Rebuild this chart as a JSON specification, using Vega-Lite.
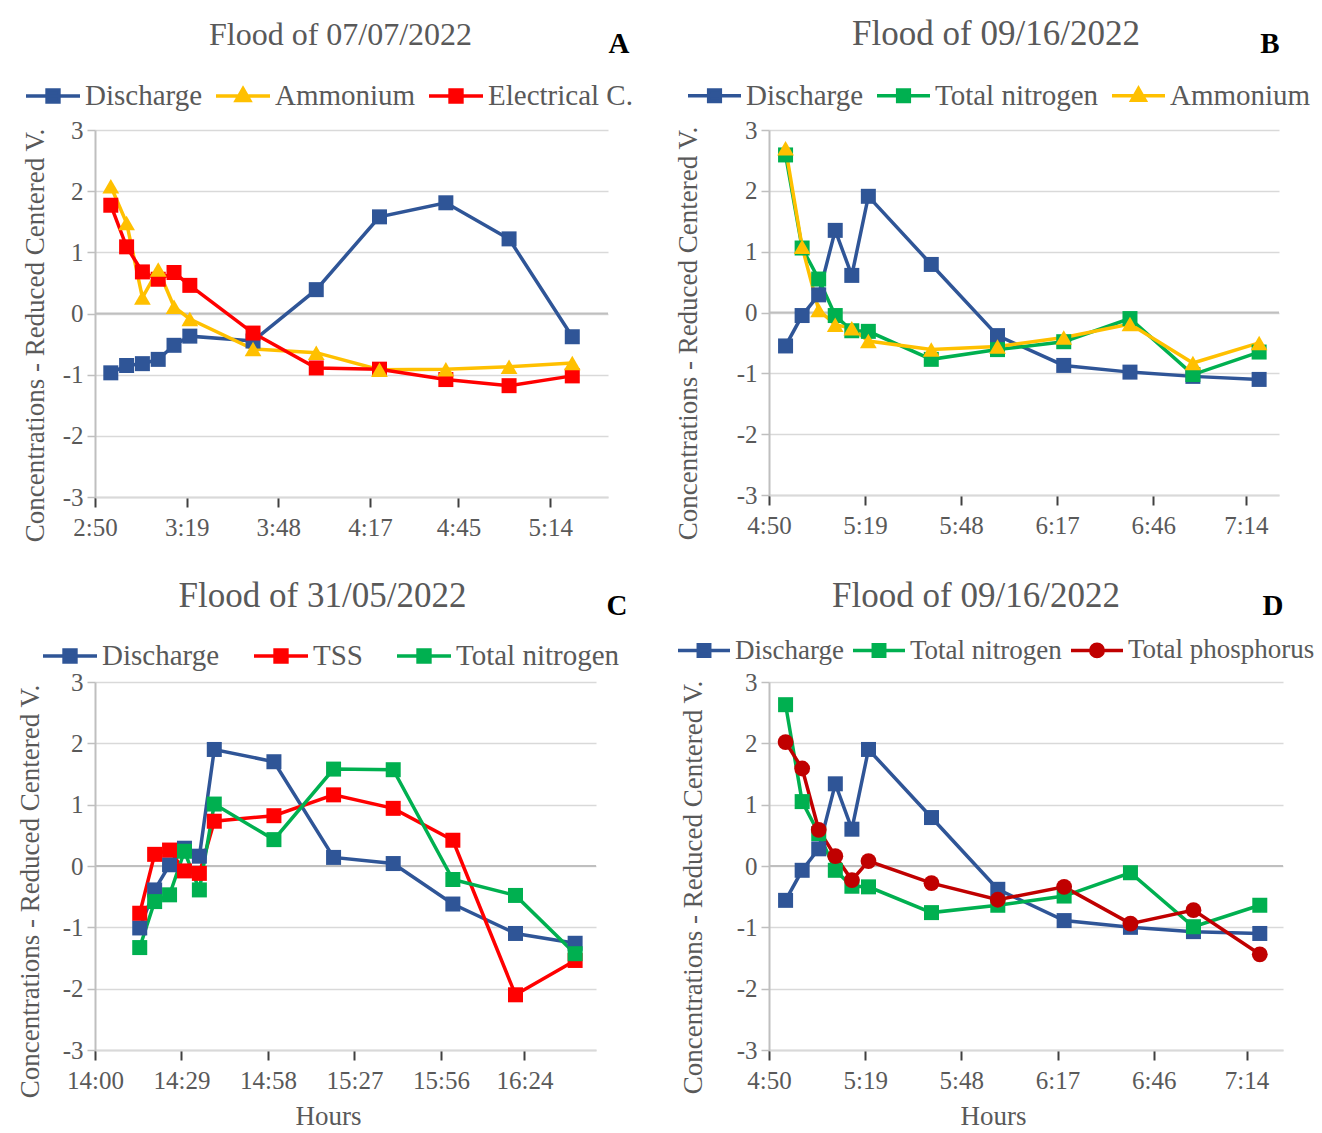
{
  "$schema": "https://vega.github.io/schema/vega-lite/v6.json",
  "background": "white",
  "autosize": {"type": "pad"},
  "padding": {"left": 16, "top": 17, "right": 0, "bottom": 0},
  "bounds": "flush",
  "columns": 2,
  "spacing": {"row": 185, "column": 161},
  "resolve": {
    "scale": {"color": "independent", "fill": "independent", "stroke": "independent", "shape": "independent"},
    "legend": {"color": "independent", "fill": "independent", "stroke": "independent", "shape": "independent"}
  },
  "config": {
    "font": "Liberation Serif",
    "view": {"stroke": null},
    "axis": {
      "labelFont": "Liberation Serif", "titleFont": "Liberation Serif",
      "labelColor": "#595959", "titleColor": "#595959",
      "labelFontSize": 25, "titleFontSize": 27, "titleFontWeight": "normal"
    },
    "legend": {
      "labelFont": "Liberation Serif", "labelColor": "#595959", "labelLimit": 0,
      "symbolStrokeWidth": 3.5, "symbolOpacity": 1
    },
    "title": {"font": "Liberation Serif", "color": "#595959", "fontWeight": "normal", "fontSize": 35, "anchor": "middle", "frame": "group", "dy": 27}
  },
  "datasets": {
    "A": [
      {"t": 175, "s": "Discharge", "v": -0.97}, {"t": 180, "s": "Discharge", "v": -0.85}, {"t": 185, "s": "Discharge", "v": -0.82},
      {"t": 190, "s": "Discharge", "v": -0.75}, {"t": 195, "s": "Discharge", "v": -0.52}, {"t": 200, "s": "Discharge", "v": -0.37},
      {"t": 220, "s": "Discharge", "v": -0.45}, {"t": 240, "s": "Discharge", "v": 0.39}, {"t": 260, "s": "Discharge", "v": 1.58},
      {"t": 281, "s": "Discharge", "v": 1.81}, {"t": 301, "s": "Discharge", "v": 1.22}, {"t": 321, "s": "Discharge", "v": -0.38},
      {"t": 175, "s": "Ammonium", "v": 2.08}, {"t": 180, "s": "Ammonium", "v": 1.48}, {"t": 185, "s": "Ammonium", "v": 0.26},
      {"t": 190, "s": "Ammonium", "v": 0.72}, {"t": 195, "s": "Ammonium", "v": 0.11}, {"t": 200, "s": "Ammonium", "v": -0.09},
      {"t": 220, "s": "Ammonium", "v": -0.58}, {"t": 240, "s": "Ammonium", "v": -0.64}, {"t": 260, "s": "Ammonium", "v": -0.92},
      {"t": 281, "s": "Ammonium", "v": -0.91}, {"t": 301, "s": "Ammonium", "v": -0.87}, {"t": 321, "s": "Ammonium", "v": -0.81},
      {"t": 175, "s": "Electrical C.", "v": 1.77}, {"t": 180, "s": "Electrical C.", "v": 1.09}, {"t": 185, "s": "Electrical C.", "v": 0.68},
      {"t": 190, "s": "Electrical C.", "v": 0.56}, {"t": 195, "s": "Electrical C.", "v": 0.67}, {"t": 200, "s": "Electrical C.", "v": 0.46},
      {"t": 220, "s": "Electrical C.", "v": -0.32}, {"t": 240, "s": "Electrical C.", "v": -0.89}, {"t": 260, "s": "Electrical C.", "v": -0.91},
      {"t": 281, "s": "Electrical C.", "v": -1.08}, {"t": 301, "s": "Electrical C.", "v": -1.18}, {"t": 321, "s": "Electrical C.", "v": -1.02}
    ],
    "B": [
      {"t": 295, "s": "Discharge", "v": -0.55}, {"t": 300, "s": "Discharge", "v": -0.05}, {"t": 305, "s": "Discharge", "v": 0.29},
      {"t": 310, "s": "Discharge", "v": 1.35}, {"t": 315, "s": "Discharge", "v": 0.61}, {"t": 320, "s": "Discharge", "v": 1.91},
      {"t": 339, "s": "Discharge", "v": 0.79}, {"t": 359, "s": "Discharge", "v": -0.38}, {"t": 379, "s": "Discharge", "v": -0.87},
      {"t": 399, "s": "Discharge", "v": -0.98}, {"t": 418, "s": "Discharge", "v": -1.05}, {"t": 438, "s": "Discharge", "v": -1.10},
      {"t": 295, "s": "Total nitrogen", "v": 2.59}, {"t": 300, "s": "Total nitrogen", "v": 1.06}, {"t": 305, "s": "Total nitrogen", "v": 0.55},
      {"t": 310, "s": "Total nitrogen", "v": -0.05}, {"t": 315, "s": "Total nitrogen", "v": -0.30}, {"t": 320, "s": "Total nitrogen", "v": -0.31},
      {"t": 339, "s": "Total nitrogen", "v": -0.77}, {"t": 359, "s": "Total nitrogen", "v": -0.61}, {"t": 379, "s": "Total nitrogen", "v": -0.48},
      {"t": 399, "s": "Total nitrogen", "v": -0.10}, {"t": 418, "s": "Total nitrogen", "v": -1.02}, {"t": 438, "s": "Total nitrogen", "v": -0.65},
      {"t": 295, "s": "Ammonium", "v": 2.70}, {"t": 300, "s": "Ammonium", "v": 1.08}, {"t": 305, "s": "Ammonium", "v": 0.04},
      {"t": 310, "s": "Ammonium", "v": -0.20}, {"t": 315, "s": "Ammonium", "v": -0.26}, {"t": 320, "s": "Ammonium", "v": -0.47},
      {"t": 339, "s": "Ammonium", "v": -0.61}, {"t": 359, "s": "Ammonium", "v": -0.56}, {"t": 379, "s": "Ammonium", "v": -0.41},
      {"t": 399, "s": "Ammonium", "v": -0.19}, {"t": 418, "s": "Ammonium", "v": -0.83}, {"t": 438, "s": "Ammonium", "v": -0.50}
    ],
    "C": [
      {"t": 855, "s": "Discharge", "v": -1.01}, {"t": 860, "s": "Discharge", "v": -0.39}, {"t": 865, "s": "Discharge", "v": 0.02},
      {"t": 870, "s": "Discharge", "v": 0.29}, {"t": 875, "s": "Discharge", "v": 0.16}, {"t": 880, "s": "Discharge", "v": 1.90},
      {"t": 900, "s": "Discharge", "v": 1.70}, {"t": 920, "s": "Discharge", "v": 0.14}, {"t": 940, "s": "Discharge", "v": 0.04},
      {"t": 960, "s": "Discharge", "v": -0.62}, {"t": 981, "s": "Discharge", "v": -1.10}, {"t": 1001, "s": "Discharge", "v": -1.26},
      {"t": 855, "s": "TSS", "v": -0.77}, {"t": 860, "s": "TSS", "v": 0.19}, {"t": 865, "s": "TSS", "v": 0.26},
      {"t": 870, "s": "TSS", "v": -0.08}, {"t": 875, "s": "TSS", "v": -0.12}, {"t": 880, "s": "TSS", "v": 0.73},
      {"t": 900, "s": "TSS", "v": 0.82}, {"t": 920, "s": "TSS", "v": 1.16}, {"t": 940, "s": "TSS", "v": 0.94},
      {"t": 960, "s": "TSS", "v": 0.42}, {"t": 981, "s": "TSS", "v": -2.10}, {"t": 1001, "s": "TSS", "v": -1.54},
      {"t": 855, "s": "Total nitrogen", "v": -1.33}, {"t": 860, "s": "Total nitrogen", "v": -0.58}, {"t": 865, "s": "Total nitrogen", "v": -0.47},
      {"t": 870, "s": "Total nitrogen", "v": 0.24}, {"t": 875, "s": "Total nitrogen", "v": -0.39}, {"t": 880, "s": "Total nitrogen", "v": 1.01},
      {"t": 900, "s": "Total nitrogen", "v": 0.43}, {"t": 920, "s": "Total nitrogen", "v": 1.58}, {"t": 940, "s": "Total nitrogen", "v": 1.57},
      {"t": 960, "s": "Total nitrogen", "v": -0.22}, {"t": 981, "s": "Total nitrogen", "v": -0.48}, {"t": 1001, "s": "Total nitrogen", "v": -1.43}
    ],
    "D": [
      {"t": 295, "s": "Discharge", "v": -0.56}, {"t": 300, "s": "Discharge", "v": -0.07}, {"t": 305, "s": "Discharge", "v": 0.28},
      {"t": 310, "s": "Discharge", "v": 1.34}, {"t": 315, "s": "Discharge", "v": 0.60}, {"t": 320, "s": "Discharge", "v": 1.90},
      {"t": 339, "s": "Discharge", "v": 0.79}, {"t": 359, "s": "Discharge", "v": -0.38}, {"t": 379, "s": "Discharge", "v": -0.89},
      {"t": 399, "s": "Discharge", "v": -1.00}, {"t": 418, "s": "Discharge", "v": -1.07}, {"t": 438, "s": "Discharge", "v": -1.10},
      {"t": 295, "s": "Total nitrogen", "v": 2.63}, {"t": 300, "s": "Total nitrogen", "v": 1.05}, {"t": 305, "s": "Total nitrogen", "v": 0.53},
      {"t": 310, "s": "Total nitrogen", "v": -0.07}, {"t": 315, "s": "Total nitrogen", "v": -0.33}, {"t": 320, "s": "Total nitrogen", "v": -0.34},
      {"t": 339, "s": "Total nitrogen", "v": -0.76}, {"t": 359, "s": "Total nitrogen", "v": -0.64}, {"t": 379, "s": "Total nitrogen", "v": -0.49},
      {"t": 399, "s": "Total nitrogen", "v": -0.11}, {"t": 418, "s": "Total nitrogen", "v": -0.99}, {"t": 438, "s": "Total nitrogen", "v": -0.64},
      {"t": 295, "s": "Total phosphorus", "v": 2.02}, {"t": 300, "s": "Total phosphorus", "v": 1.59}, {"t": 305, "s": "Total phosphorus", "v": 0.59},
      {"t": 310, "s": "Total phosphorus", "v": 0.16}, {"t": 315, "s": "Total phosphorus", "v": -0.23}, {"t": 320, "s": "Total phosphorus", "v": 0.08},
      {"t": 339, "s": "Total phosphorus", "v": -0.28}, {"t": 359, "s": "Total phosphorus", "v": -0.55}, {"t": 379, "s": "Total phosphorus", "v": -0.34},
      {"t": 399, "s": "Total phosphorus", "v": -0.94}, {"t": 418, "s": "Total phosphorus", "v": -0.72}, {"t": 438, "s": "Total phosphorus", "v": -1.44}
    ]
  },
  "concat": [
    {
      "width": 513, "height": 367,
      "title": {"text": "Flood of 07/07/2022", "fontSize": 32, "dx": -11},
      "data": {"name": "A"},
      "resolve": {"axis": {"x": "independent"}},
      "layer": [
        {"data": {"values": [{}]}, "mark": {"type": "rule", "color": "#BFBFBF", "strokeWidth": 2}, "encoding": {"y": {"datum": 0}}},
        {
          "mark": {"type": "line", "strokeWidth": 3.5},
          "encoding": {
            "x": {"field": "t", "type": "quantitative", "scale": {"domain": [170, 332.3], "nice": false, "zero": false},
              "axis": {"values": [170, 199, 228, 257, 285, 314], "labelExpr": "floor(datum.value/60) + ':' + (datum.value % 60 < 10 ? '0' : '') + (datum.value % 60)", "grid": false, "domainColor": "#D9D9D9", "domainWidth": 2, "tickColor": "#404040", "tickSize": 10, "tickWidth": 2, "labelPadding": 8, "labelFlush": false, "labelOverlap": false, "title": null}},
            "y": {"field": "v", "type": "quantitative", "scale": {"domain": [-3, 3], "nice": false, "zero": false},
              "axis": {"values": [-3, -2, -1, 0, 1, 2, 3], "labelExpr": "'' + datum.value", "grid": true, "gridColor": "#D9D9D9", "gridWidth": 1.5, "domainColor": "#BFBFBF", "domainWidth": 2, "tickColor": "#BFBFBF", "tickSize": 8, "tickWidth": 1.5, "labelPadding": 4, "title": "Concentrations - Reduced Centered V.", "titleY": 205, "titlePadding": 13}},
            "color": {"field": "s", "type": "nominal", "scale": {"domain": ["Electrical C.", "Ammonium", "Discharge"], "range": ["#FF0000", "#FFC000", "#2F5597"]}, "legend": null}
          }
        },
        {
          "transform": [{"filter": "datum.s !== 'Ammonium' && datum.s !== 'Total phosphorus'"}],
          "mark": {"type": "point", "filled": true, "shape": "square", "size": 225, "opacity": 1},
          "encoding": {"x": {"field": "t", "type": "quantitative", "axis": null}, "y": {"field": "v", "type": "quantitative"}, "color": {"field": "s", "type": "nominal", "legend": null}}
        },
        {
          "transform": [{"filter": "datum.s === 'Ammonium'"}],
          "mark": {"type": "point", "filled": true, "shape": "triangle-up", "size": 280, "opacity": 1},
          "encoding": {"x": {"field": "t", "type": "quantitative", "axis": null}, "y": {"field": "v", "type": "quantitative"}, "color": {"field": "s", "type": "nominal", "legend": null}}
        },
        {
          "mark": {"type": "point", "filled": true, "opacity": 0},
          "encoding": {
            "x": {"field": "t", "type": "quantitative", "axis": {"orient": "top", "title": "A", "labels": false, "ticks": false, "domain": false, "grid": false, "titleAnchor": "end", "titleAlign": "left", "titleFontWeight": "bold", "titleColor": "black", "titleFontSize": 29, "titlePadding": 72}},
            "y": {"field": "v", "type": "quantitative"},
            "fill": {"field": "s", "type": "nominal", "scale": {"domain": ["Discharge", "Ammonium", "Electrical C."], "range": ["#2F5597", "#FFC000", "#FF0000"]},
              "legend": {"orient": "none", "legendX": -71, "legendY": -63, "direction": "horizontal", "title": null, "symbolSize": 2916, "symbolOpacity": 1, "labelFontSize": 29, "labelOffset": 3, "columnPadding": 6}},
            "stroke": {"field": "s", "type": "nominal", "scale": {"domain": ["Discharge", "Ammonium", "Electrical C."], "range": ["#2F5597", "#FFC000", "#FF0000"]},
              "legend": {"orient": "none", "legendX": -71, "legendY": -63, "direction": "horizontal", "title": null, "symbolSize": 2916, "symbolOpacity": 1, "labelFontSize": 29, "labelOffset": 3, "columnPadding": 6}},
            "shape": {"field": "s", "type": "nominal", "scale": {"domain": ["Discharge", "Ammonium", "Electrical C."], "range": ["M-1,0H1M-0.22,-0.22H0.22V0.22H-0.22Z", "M-1,0H1M0,-0.27L0.25,0.17H-0.25Z", "M-1,0H1M-0.22,-0.22H0.22V0.22H-0.22Z"]},
              "legend": {"orient": "none", "legendX": -71, "legendY": -63, "direction": "horizontal", "title": null, "symbolSize": 2916, "symbolOpacity": 1, "labelFontSize": 29, "labelOffset": 3, "columnPadding": 6}}
          }
        }
      ]
    },
    {
      "width": 510, "height": 365,
      "title": {"text": "Flood of 09/16/2022", "dx": -28},
      "data": {"name": "B"},
      "resolve": {"axis": {"x": "independent"}},
      "layer": [
        {"data": {"values": [{}]}, "mark": {"type": "rule", "color": "#BFBFBF", "strokeWidth": 2}, "encoding": {"y": {"datum": 0}}},
        {
          "mark": {"type": "line", "strokeWidth": 3.5},
          "encoding": {
            "x": {"field": "t", "type": "quantitative", "scale": {"domain": [290, 444], "nice": false, "zero": false},
              "axis": {"values": [290, 319, 348, 377, 406, 434], "labelExpr": "floor(datum.value/60) + ':' + (datum.value % 60 < 10 ? '0' : '') + (datum.value % 60)", "grid": false, "domainColor": "#D9D9D9", "domainWidth": 2, "tickColor": "#404040", "tickSize": 10, "tickWidth": 2, "labelPadding": 8, "labelFlush": false, "labelOverlap": false, "title": null}},
            "y": {"field": "v", "type": "quantitative", "scale": {"domain": [-3, 3], "nice": false, "zero": false},
              "axis": {"values": [-3, -2, -1, 0, 1, 2, 3], "labelExpr": "'' + datum.value", "grid": true, "gridColor": "#D9D9D9", "gridWidth": 1.5, "domainColor": "#BFBFBF", "domainWidth": 2, "tickColor": "#BFBFBF", "tickSize": 8, "tickWidth": 1.5, "labelPadding": 4, "title": "Concentrations - Reduced Centered V.", "titleY": 203, "titlePadding": 34}},
            "color": {"field": "s", "type": "nominal", "scale": {"domain": ["Ammonium", "Total nitrogen", "Discharge"], "range": ["#FFC000", "#00B050", "#2F5597"]}, "legend": null}
          }
        },
        {
          "transform": [{"filter": "datum.s !== 'Ammonium' && datum.s !== 'Total phosphorus'"}],
          "mark": {"type": "point", "filled": true, "shape": "square", "size": 225, "opacity": 1},
          "encoding": {"x": {"field": "t", "type": "quantitative", "axis": null}, "y": {"field": "v", "type": "quantitative"}, "color": {"field": "s", "type": "nominal", "legend": null}}
        },
        {
          "transform": [{"filter": "datum.s === 'Ammonium'"}],
          "mark": {"type": "point", "filled": true, "shape": "triangle-up", "size": 280, "opacity": 1},
          "encoding": {"x": {"field": "t", "type": "quantitative", "axis": null}, "y": {"field": "v", "type": "quantitative"}, "color": {"field": "s", "type": "nominal", "legend": null}}
        },
        {
          "mark": {"type": "point", "filled": true, "opacity": 0},
          "encoding": {
            "x": {"field": "t", "type": "quantitative", "axis": {"orient": "top", "title": "B", "labels": false, "ticks": false, "domain": false, "grid": false, "titleAnchor": "end", "titleAlign": "right", "titleFontWeight": "bold", "titleColor": "black", "titleFontSize": 29, "titlePadding": 72}},
            "y": {"field": "v", "type": "quantitative"},
            "fill": {"field": "s", "type": "nominal", "scale": {"domain": ["Discharge", "Total nitrogen", "Ammonium"], "range": ["#2F5597", "#00B050", "#FFC000"]},
              "legend": {"orient": "none", "legendX": -83, "legendY": -63, "direction": "horizontal", "title": null, "symbolSize": 2809, "symbolOpacity": 1, "labelFontSize": 29, "labelOffset": 3, "columnPadding": 6}},
            "stroke": {"field": "s", "type": "nominal", "scale": {"domain": ["Discharge", "Total nitrogen", "Ammonium"], "range": ["#2F5597", "#00B050", "#FFC000"]},
              "legend": {"orient": "none", "legendX": -83, "legendY": -63, "direction": "horizontal", "title": null, "symbolSize": 2809, "symbolOpacity": 1, "labelFontSize": 29, "labelOffset": 3, "columnPadding": 6}},
            "shape": {"field": "s", "type": "nominal", "scale": {"domain": ["Discharge", "Total nitrogen", "Ammonium"], "range": ["M-1,0H1M-0.22,-0.22H0.22V0.22H-0.22Z", "M-1,0H1M-0.22,-0.22H0.22V0.22H-0.22Z", "M-1,0H1M0,-0.27L0.25,0.17H-0.25Z"]},
              "legend": {"orient": "none", "legendX": -83, "legendY": -63, "direction": "horizontal", "title": null, "symbolSize": 2809, "symbolOpacity": 1, "labelFontSize": 29, "labelOffset": 3, "columnPadding": 6}}
          }
        }
      ]
    },
    {
      "width": 501, "height": 368,
      "title": {"text": "Flood of 31/05/2022", "dx": -23},
      "data": {"name": "C"},
      "resolve": {"axis": {"x": "independent"}},
      "layer": [
        {"data": {"values": [{}]}, "mark": {"type": "rule", "color": "#BFBFBF", "strokeWidth": 2}, "encoding": {"y": {"datum": 0}}},
        {
          "mark": {"type": "line", "strokeWidth": 3.5},
          "encoding": {
            "x": {"field": "t", "type": "quantitative", "scale": {"domain": [840, 1008], "nice": false, "zero": false},
              "axis": {"values": [840, 869, 898, 927, 956, 984], "labelExpr": "floor(datum.value/60) + ':' + (datum.value % 60 < 10 ? '0' : '') + (datum.value % 60)", "grid": false, "domainColor": "#D9D9D9", "domainWidth": 2, "tickColor": "#404040", "tickSize": 10, "tickWidth": 2, "labelPadding": 8, "labelFlush": false, "labelOverlap": false, "title": "Hours", "titleX": 233, "titlePadding": 10}},
            "y": {"field": "v", "type": "quantitative", "scale": {"domain": [-3, 3], "nice": false, "zero": false},
              "axis": {"values": [-3, -2, -1, 0, 1, 2, 3], "labelExpr": "'' + datum.value", "grid": true, "gridColor": "#D9D9D9", "gridWidth": 1.5, "domainColor": "#BFBFBF", "domainWidth": 2, "tickColor": "#BFBFBF", "tickSize": 8, "tickWidth": 1.5, "labelPadding": 4, "title": "Concentrations - Reduced Centered V.", "titleY": 209, "titlePadding": 18}},
            "color": {"field": "s", "type": "nominal", "scale": {"domain": ["Total nitrogen", "TSS", "Discharge"], "range": ["#00B050", "#FF0000", "#2F5597"]}, "legend": null}
          }
        },
        {
          "transform": [{"filter": "datum.s !== 'Ammonium' && datum.s !== 'Total phosphorus'"}],
          "mark": {"type": "point", "filled": true, "shape": "square", "size": 225, "opacity": 1},
          "encoding": {"x": {"field": "t", "type": "quantitative", "axis": null}, "y": {"field": "v", "type": "quantitative"}, "color": {"field": "s", "type": "nominal", "legend": null}}
        },
        {
          "mark": {"type": "point", "filled": true, "opacity": 0},
          "encoding": {
            "x": {"field": "t", "type": "quantitative", "axis": {"orient": "top", "title": "C", "labels": false, "ticks": false, "domain": false, "grid": false, "titleAnchor": "end", "titleAlign": "left", "titleX": 511, "titleFontWeight": "bold", "titleColor": "black", "titleFontSize": 29, "titlePadding": 62}},
            "y": {"field": "v", "type": "quantitative"},
            "fill": {"field": "s", "type": "nominal", "scale": {"domain": ["Discharge", "TSS", "Total nitrogen"], "range": ["#2F5597", "#FF0000", "#00B050"]},
              "legend": {"orient": "none", "legendX": -54, "legendY": -55, "direction": "horizontal", "title": null, "symbolSize": 2916, "symbolOpacity": 1, "labelFontSize": 29, "labelOffset": 3, "columnPadding": 27}},
            "stroke": {"field": "s", "type": "nominal", "scale": {"domain": ["Discharge", "TSS", "Total nitrogen"], "range": ["#2F5597", "#FF0000", "#00B050"]},
              "legend": {"orient": "none", "legendX": -54, "legendY": -55, "direction": "horizontal", "title": null, "symbolSize": 2916, "symbolOpacity": 1, "labelFontSize": 29, "labelOffset": 3, "columnPadding": 27}},
            "shape": {"field": "s", "type": "nominal", "scale": {"domain": ["Discharge", "TSS", "Total nitrogen"], "range": ["M-1,0H1M-0.22,-0.22H0.22V0.22H-0.22Z", "M-1,0H1M-0.22,-0.22H0.22V0.22H-0.22Z", "M-1,0H1M-0.22,-0.22H0.22V0.22H-0.22Z"]},
              "legend": {"orient": "none", "legendX": -54, "legendY": -55, "direction": "horizontal", "title": null, "symbolSize": 2916, "symbolOpacity": 1, "labelFontSize": 29, "labelOffset": 3, "columnPadding": 27}}
          }
        }
      ]
    },
    {
      "width": 514, "height": 368,
      "title": {"text": "Flood of 09/16/2022", "dx": -50},
      "data": {"name": "D"},
      "resolve": {"axis": {"x": "independent"}},
      "layer": [
        {"data": {"values": [{}]}, "mark": {"type": "rule", "color": "#BFBFBF", "strokeWidth": 2}, "encoding": {"y": {"datum": 0}}},
        {
          "mark": {"type": "line", "strokeWidth": 3.5},
          "encoding": {
            "x": {"field": "t", "type": "quantitative", "scale": {"domain": [290, 445], "nice": false, "zero": false},
              "axis": {"values": [290, 319, 348, 377, 406, 434], "labelExpr": "floor(datum.value/60) + ':' + (datum.value % 60 < 10 ? '0' : '') + (datum.value % 60)", "grid": false, "domainColor": "#D9D9D9", "domainWidth": 2, "tickColor": "#404040", "tickSize": 10, "tickWidth": 2, "labelPadding": 8, "labelFlush": false, "labelOverlap": false, "title": "Hours", "titleX": 224, "titlePadding": 10}},
            "y": {"field": "v", "type": "quantitative", "scale": {"domain": [-3, 3], "nice": false, "zero": false},
              "axis": {"values": [-3, -2, -1, 0, 1, 2, 3], "labelExpr": "'' + datum.value", "grid": true, "gridColor": "#D9D9D9", "gridWidth": 1.5, "domainColor": "#BFBFBF", "domainWidth": 2, "tickColor": "#BFBFBF", "tickSize": 8, "tickWidth": 1.5, "labelPadding": 4, "title": "Concentrations - Reduced Centered V.", "titleY": 205, "titlePadding": 29}},
            "color": {"field": "s", "type": "nominal", "scale": {"domain": ["Total phosphorus", "Total nitrogen", "Discharge"], "range": ["#C00000", "#00B050", "#2F5597"]}, "legend": null}
          }
        },
        {
          "transform": [{"filter": "datum.s !== 'Ammonium' && datum.s !== 'Total phosphorus'"}],
          "mark": {"type": "point", "filled": true, "shape": "square", "size": 225, "opacity": 1},
          "encoding": {"x": {"field": "t", "type": "quantitative", "axis": null}, "y": {"field": "v", "type": "quantitative"}, "color": {"field": "s", "type": "nominal", "legend": null}}
        },
        {
          "transform": [{"filter": "datum.s === 'Total phosphorus'"}],
          "mark": {"type": "point", "filled": true, "shape": "circle", "size": 250, "opacity": 1},
          "encoding": {"x": {"field": "t", "type": "quantitative", "axis": null}, "y": {"field": "v", "type": "quantitative"}, "color": {"field": "s", "type": "nominal", "legend": null}}
        },
        {
          "mark": {"type": "point", "filled": true, "opacity": 0},
          "encoding": {
            "x": {"field": "t", "type": "quantitative", "axis": {"orient": "top", "title": "D", "labels": false, "ticks": false, "domain": false, "grid": false, "titleAnchor": "end", "titleAlign": "right", "titleFontWeight": "bold", "titleColor": "black", "titleFontSize": 29, "titlePadding": 62}},
            "y": {"field": "v", "type": "quantitative"},
            "fill": {"field": "s", "type": "nominal", "scale": {"domain": ["Discharge", "Total nitrogen", "Total phosphorus"], "range": ["#2F5597", "#00B050", "#C00000"]},
              "legend": {"orient": "none", "legendX": -93, "legendY": -60, "direction": "horizontal", "title": null, "symbolSize": 2704, "symbolOpacity": 1, "labelFontSize": 27, "labelOffset": 3, "columnPadding": 2}},
            "stroke": {"field": "s", "type": "nominal", "scale": {"domain": ["Discharge", "Total nitrogen", "Total phosphorus"], "range": ["#2F5597", "#00B050", "#C00000"]},
              "legend": {"orient": "none", "legendX": -93, "legendY": -60, "direction": "horizontal", "title": null, "symbolSize": 2704, "symbolOpacity": 1, "labelFontSize": 27, "labelOffset": 3, "columnPadding": 2}},
            "shape": {"field": "s", "type": "nominal", "scale": {"domain": ["Discharge", "Total nitrogen", "Total phosphorus"], "range": ["M-1,0H1M-0.22,-0.22H0.22V0.22H-0.22Z", "M-1,0H1M-0.22,-0.22H0.22V0.22H-0.22Z", "M-1,0H1M-0.24,0A0.24,0.24,0,1,0,0.24,0A0.24,0.24,0,1,0,-0.24,0Z"]},
              "legend": {"orient": "none", "legendX": -93, "legendY": -60, "direction": "horizontal", "title": null, "symbolSize": 2704, "symbolOpacity": 1, "labelFontSize": 27, "labelOffset": 3, "columnPadding": 2}}
          }
        }
      ]
    }
  ]
}
